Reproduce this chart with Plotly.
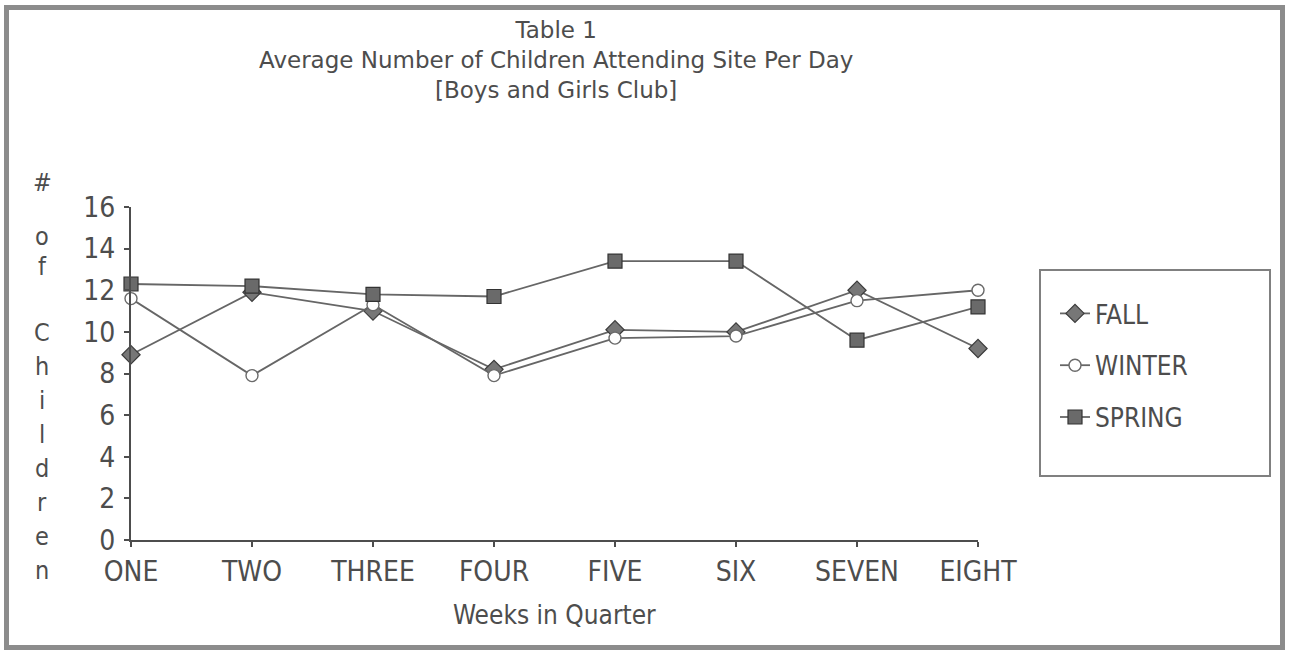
import plotly.graph_objects as go

# Weeks of the quarter and average daily attendance per season
weeks = ["ONE", "TWO", "THREE", "FOUR", "FIVE", "SIX", "SEVEN", "EIGHT"]
fall = [8.9, 11.9, 11.0, 8.2, 10.1, 10.0, 12.0, 9.2]
winter = [11.6, 7.9, 11.3, 7.9, 9.7, 9.8, 11.5, 12.0]
spring = [12.3, 12.2, 11.8, 11.7, 13.4, 13.4, 9.6, 11.2]
y_ticks = [0, 2, 4, 6, 8, 10, 12, 14, 16]

W, H = 1290, 652
L, R, T, B = 131, 978, 207, 540  # plot area edges in pixels


def px(x):
    return (x - L) / (R - L)


def py(y):
    return (B - y) / (B - T)


ink = "#4d4d4d"
line_col = "#666666"
font = "Liberation Sans Narrow, DejaVu Sans Condensed, sans-serif"
title_font = "DejaVu Sans, Liberation Sans, sans-serif"

idx = list(range(len(weeks)))
fig = go.Figure()

fig.add_trace(go.Scatter(
    x=idx, y=fall, name="FALL", legendgroup="fall", mode="lines+markers",
    line=dict(color=line_col, width=1.8),
    marker=dict(symbol="diamond", size=14, color="#777777",
                line=dict(color="#3c3c3c", width=1.2)),
    cliponaxis=False,
))
fig.add_trace(go.Scatter(
    x=idx, y=winter, name="WINTER", legendgroup="winter", mode="lines+markers",
    line=dict(color=line_col, width=1.8),
    marker=dict(symbol="circle", size=12, color="white",
                line=dict(color="#6a6a6a", width=1.4)),
    cliponaxis=False,
))
fig.add_trace(go.Scatter(
    x=idx, y=spring, name="SPRING", legendgroup="spring", mode="lines+markers",
    line=dict(color=line_col, width=1.8),
    marker=dict(symbol="square", size=14, color="#6a6a6a",
                line=dict(color="#333333", width=1.2)),
    cliponaxis=False,
))

axis_common = dict(
    showline=True, linecolor=ink, linewidth=2, showgrid=False, zeroline=False,
    ticks="outside", ticklen=5, tickcolor=ink, tickwidth=1.5,
    tickfont=dict(family=font, size=28, color=ink),
)

fig.update_xaxes(range=[0, 7], tickvals=idx, ticktext=weeks, **axis_common)
fig.update_yaxes(range=[0, 16], tickvals=y_ticks, ticklabelstandoff=3, **axis_common)

shapes = [
    # outer frame
    dict(type="rect", xref="paper", yref="paper",
         x0=px(6.5), x1=px(1282.5), y0=py(647.5), y1=py(7.5),
         line=dict(color="#8c8c8c", width=5)),
    # legend frame
    dict(type="rect", xref="paper", yref="paper",
         x0=px(1040), x1=px(1270), y0=py(476), y1=py(270),
         line=dict(color="#808080", width=2)),
]

annotations = []
title_text = ("Table 1<br>Average Number of Children Attending Site Per Day"
              "<br>[Boys and Girls Club]")
annotations.append(dict(text=title_text, xref="paper", yref="paper", x=px(556), y=py(60),
                        xanchor="center", yanchor="middle", align="center",
                        showarrow=False, font=dict(family=title_font, size=23, color=ink)))

annotations.append(dict(text="Weeks in Quarter", xref="paper", yref="paper",
                        x=px(554), y=py(615), xanchor="center", yanchor="middle",
                        showarrow=False, font=dict(family=font, size=26, color=ink)))

# vertical axis caption, one letter per row
y_letters = [("#", 182), ("o", 236), ("f", 266), ("C", 332), ("h", 366), ("i", 400),
             ("l", 434), ("d", 468), ("r", 502), ("e", 536), ("n", 570)]
for ch, yy in y_letters:
    annotations.append(dict(text=ch, xref="paper", yref="paper", x=px(42), y=py(yy),
                            xanchor="center", yanchor="middle", showarrow=False,
                            font=dict(family=font, size=25, color=ink)))

fig.update_layout(
    width=W, height=H,
    margin=dict(l=L, r=W - R, t=T, b=H - B),
    paper_bgcolor="white", plot_bgcolor="white",
    showlegend=True,
    legend=dict(x=px(1055), y=py(290), xanchor="left", yanchor="top",
                bgcolor="rgba(0,0,0,0)", borderwidth=0, tracegroupgap=15,
                itemwidth=30, font=dict(family=font, size=26, color=ink)),
    shapes=shapes, annotations=annotations,
)

fig.write_html("out.html")
